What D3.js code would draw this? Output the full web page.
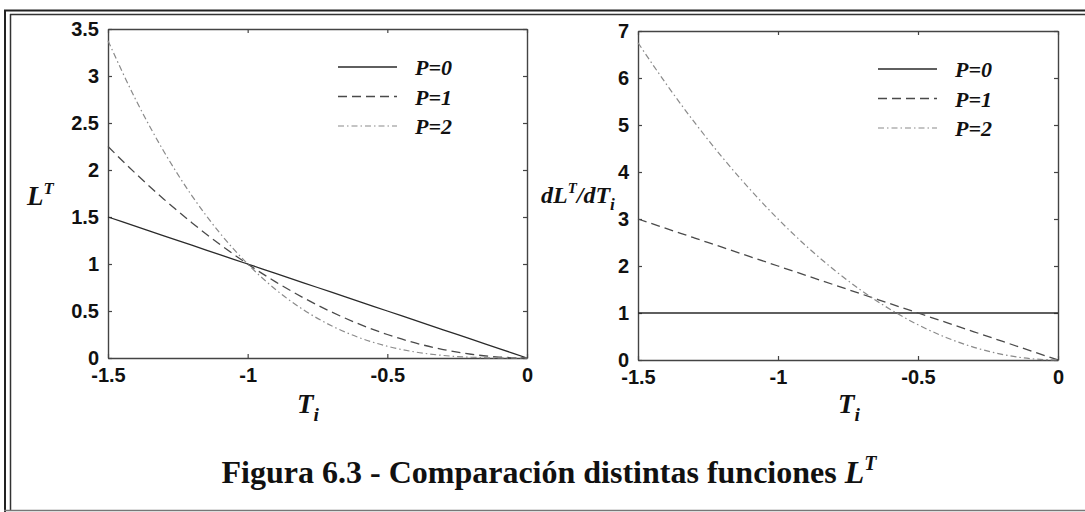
<!DOCTYPE html>
<html>
<head>
<meta charset="utf-8">
<script src="https://cdn.jsdelivr.net/npm/d3@7/dist/d3.min.js"></script>
<style>
  html, body { margin: 0; padding: 0; background: #fff; }
  svg { display: block; }
</style>
</head>
<body>
<svg id="fig" width="1085" height="512"></svg>
<script>
// Sample points of T_i
const tValues = [-1.5, -1.4, -1.3, -1.2, -1.1, -1.0, -0.9, -0.8, -0.7, -0.6, -0.5, -0.4, -0.3, -0.2, -0.1, 0];

// L^T for P = 0, 1, 2
const lP0 = [1.5, 1.4, 1.3, 1.2, 1.1, 1.0, 0.9, 0.8, 0.7, 0.6, 0.5, 0.4, 0.3, 0.2, 0.1, 0];
const lP1 = [2.25, 1.96, 1.69, 1.44, 1.21, 1.0, 0.81, 0.64, 0.49, 0.36, 0.25, 0.16, 0.09, 0.04, 0.01, 0];
const lP2 = [3.375, 2.744, 2.197, 1.728, 1.331, 1.0, 0.729, 0.512, 0.343, 0.216, 0.125, 0.064, 0.027, 0.008, 0.001, 0];

// dL^T/dT_i (magnitude) for P = 0, 1, 2
const dP0 = [1, 1, 1, 1, 1, 1, 1, 1, 1, 1, 1, 1, 1, 1, 1, 1];
const dP1 = [3.0, 2.8, 2.6, 2.4, 2.2, 2.0, 1.8, 1.6, 1.4, 1.2, 1.0, 0.8, 0.6, 0.4, 0.2, 0];
const dP2 = [6.75, 5.88, 5.07, 4.32, 3.63, 3.0, 2.43, 1.92, 1.47, 1.08, 0.75, 0.48, 0.27, 0.12, 0.03, 0];

const legendLabels = ["P=0", "P=1", "P=2"];
const xTicks = [-1.5, -1, -0.5, 0];
const xTickLabels = ["-1.5", "-1", "-0.5", "0"];
const leftYTicks = [0, 0.5, 1, 1.5, 2, 2.5, 3, 3.5];
const rightYTicks = [0, 1, 2, 3, 4, 5, 6, 7];
const captionText = "Figura 6.3 - Comparación distintas funciones ";

const lineStyles = [
  { stroke: "#2a2a2a", width: 1.3, dash: null },
  { stroke: "#4a4a4a", width: 1.3, dash: "9,5" },
  { stroke: "#8a8a8a", width: 1.2, dash: "6,3,1.5,3" }
];

const svg = d3.select("#fig");
svg.append("rect").attr("width", 1085).attr("height", 512).attr("fill", "#fff");

// Page frame (double rule top and left, thin rule bottom)
const frame = svg.append("g").attr("fill", "none");
frame.append("line").attr("x1", 4).attr("x2", 1085).attr("y1", 10.5).attr("y2", 10.5).attr("stroke", "#222").attr("stroke-width", 2);
frame.append("line").attr("x1", 10).attr("x2", 1085).attr("y1", 14.5).attr("y2", 14.5).attr("stroke", "#333").attr("stroke-width", 1.5);
frame.append("line").attr("x1", 5).attr("x2", 5).attr("y1", 10).attr("y2", 512).attr("stroke", "#222").attr("stroke-width", 2);
frame.append("line").attr("x1", 10.5).attr("x2", 10.5).attr("y1", 14).attr("y2", 510).attr("stroke", "#333").attr("stroke-width", 1.5);
frame.append("line").attr("x1", 4).attr("x2", 1085).attr("y1", 510.5).attr("y2", 510.5).attr("stroke", "#777").attr("stroke-width", 1.5);

function drawPanel(opts) {
  const { x0, x1, yTop, yBottom, yDomain, yTicks, series, legendX, legendY } = opts;
  const x = d3.scaleLinear().domain([-1.5, 0]).range([x0, x1]);
  const y = d3.scaleLinear().domain(yDomain).range([yBottom, yTop]);
  const g = svg.append("g");

  // Axes with inward ticks on all sides
  const tickFont = (sel) => sel.selectAll("text")
    .attr("font-family", "Liberation Sans, Arial, sans-serif")
    .attr("font-weight", "bold")
    .attr("font-size", 20)
    .attr("fill", "#111");

  const bottom = g.append("g").attr("transform", `translate(0,${yBottom})`)
    .call(d3.axisBottom(x).tickValues(xTicks).tickSizeInner(-4).tickSizeOuter(0)
      .tickFormat((d, i) => xTickLabels[i]));
  tickFont(bottom);
  const top = g.append("g").attr("transform", `translate(0,${yTop})`)
    .call(d3.axisTop(x).tickValues(xTicks).tickSizeInner(-4).tickSizeOuter(0).tickFormat(""));
  const left = g.append("g").attr("transform", `translate(${x0},0)`)
    .call(d3.axisLeft(y).tickValues(yTicks).tickSizeInner(-4).tickSizeOuter(0).tickPadding(9)
      .tickFormat(d => String(d)));
  tickFont(left);
  const right = g.append("g").attr("transform", `translate(${x1},0)`)
    .call(d3.axisRight(y).tickValues(yTicks).tickSizeInner(-4).tickSizeOuter(0).tickFormat(""));
  [bottom, top, left, right].forEach(a => {
    a.select(".domain").attr("stroke", "#444").attr("stroke-width", 1.4);
    a.selectAll(".tick line").attr("stroke", "#444").attr("stroke-width", 1.2);
  });
  bottom.selectAll("text").attr("dy", "0.71em").attr("y", 10);

  const line = d3.line().x((d, i) => x(tValues[i])).y(d => y(d)).curve(d3.curveMonotoneX);
  series.forEach((vals, k) => {
    const st = lineStyles[k];
    g.append("path").datum(vals)
      .attr("d", line)
      .attr("fill", "none")
      .attr("stroke", st.stroke)
      .attr("stroke-width", st.width)
      .attr("stroke-dasharray", st.dash);
  });

  // Legend
  const lg = g.append("g");
  legendLabels.forEach((lab, k) => {
    const st = lineStyles[k];
    const ly = legendY + k * 29.5;
    lg.append("line").attr("x1", legendX).attr("x2", legendX + 59)
      .attr("y1", ly).attr("y2", ly)
      .attr("stroke", st.stroke).attr("stroke-width", st.width)
      .attr("stroke-dasharray", st.dash);
    lg.append("text").attr("x", legendX + 77).attr("y", ly + 8)
      .attr("font-family", "Liberation Serif, Times New Roman, serif")
      .attr("font-style", "italic")
      .attr("font-weight", "bold")
      .attr("font-size", 22)
      .attr("fill", "#111")
      .text(lab);
  });
  return { x, y };
}

drawPanel({ x0: 108, x1: 527, yTop: 29, yBottom: 358, yDomain: [0, 3.5], yTicks: leftYTicks,
  series: [lP0, lP1, lP2], legendX: 338, legendY: 67 });
drawPanel({ x0: 638, x1: 1058, yTop: 31, yBottom: 360, yDomain: [0, 7], yTicks: rightYTicks,
  series: [dP0, dP1, dP2], legendX: 878, legendY: 69 });

// Axis titles
const serif = "Liberation Serif, Times New Roman, serif";
function label(xp, yp, parts, size) {
  const t = svg.append("text").attr("x", xp).attr("y", yp)
    .attr("font-family", serif).attr("font-style", "italic").attr("font-weight", "bold")
    .attr("font-size", size).attr("fill", "#111");
  parts.forEach(p => {
    const s = t.append("tspan").text(p.t);
    if (p.sup) s.attr("font-size", size * 0.62).attr("dy", -size * 0.42);
    if (p.sub) s.attr("font-size", size * 0.72).attr("dy", size * 0.3);
    if (p.back) s.attr("dy", p.back);
  });
  return t;
}
label(27, 205, [{ t: "L" }, { t: "T", sup: true }], 27);
label(297, 413, [{ t: "T" }, { t: "i", sub: true }], 27);
label(838, 413, [{ t: "T" }, { t: "i", sub: true }], 27);
label(541, 203, [{ t: "dL" }, { t: "T", sup: true }, { t: "/dT", back: 24 * 0.42 }, { t: "i", sub: true }], 24);

// Caption
const cap = svg.append("text").attr("x", 549).attr("y", 483).attr("text-anchor", "middle")
  .attr("font-family", serif).attr("font-weight", "bold").attr("font-size", 32).attr("fill", "#111");
cap.append("tspan").text(captionText);
cap.append("tspan").attr("font-style", "italic").text("L");
cap.append("tspan").attr("font-style", "italic").attr("font-size", 20).attr("dy", -13).text("T");
</script>
</body>
</html>
